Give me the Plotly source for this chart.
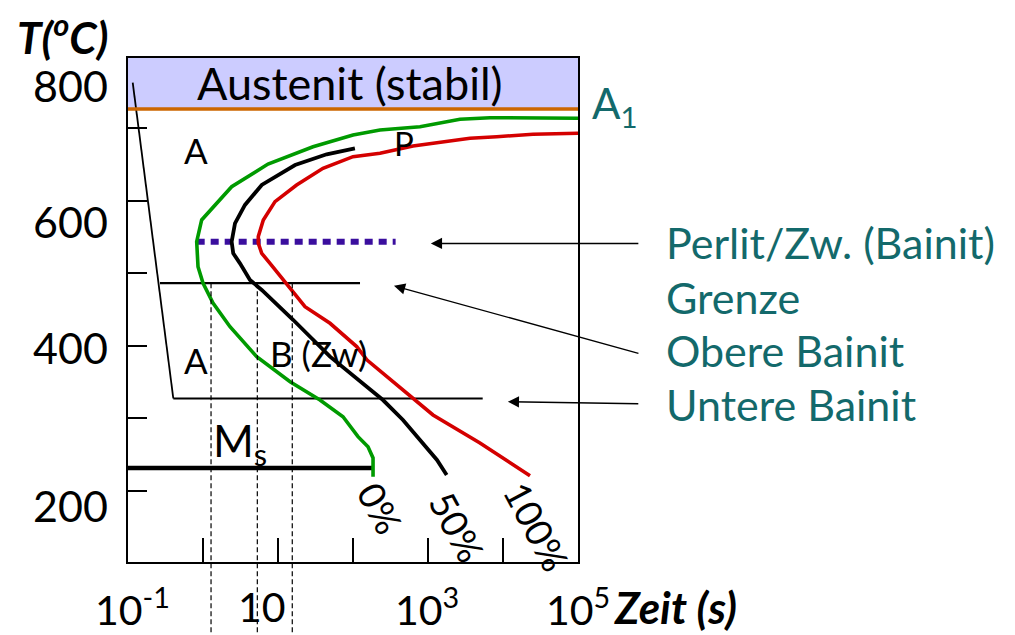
import plotly.graph_objects as go

# --- ZTU / TTT diagram data (time in s, temperature in degC) ---
# 0 % transformation (start) curve
t_start = [1e5, 6710, 2670, 782, 229, 100, 29.3, 7.36, 2.41, 0.96, 0.824, 0.832,
           0.858, 1.0, 1.36, 2.29, 5.2, 14.5, 36.3, 73.6, 116.6, 158.5, 185, 185]
T_start = [713.4, 714.2, 712.0, 701.8, 697.2, 690.4, 674.2, 650.4, 619.1, 573.3, 543.4, 527.8,
           509.0, 486.5, 459.0, 426.3, 385.0, 350.6, 325.3, 302.3, 274.8, 261.0, 245.5, 219.7]

# 50 % transformation curve
t_half = [106, 44.6, 16.9, 6.07, 3.63, 2.67, 2.41, 2.53, 3.11, 4.23, 6.07, 16.0,
          49.4, 251, 464, 858, 1318, 1774]
T_half = [672.0, 663.8, 649.0, 621.5, 594.0, 568.7, 543.4, 527.4, 513.6, 490.6, 476.9, 435.5,
          385.0, 325.3, 297.8, 266.1, 242.7, 222.0]

# 100 % transformation (finish) curve
t_end = [1e5, 25100, 8240, 3630, 631, 229, 100, 39.8, 17.7, 9.12, 6.37, 5.46, 5.46,
         6.07, 7.82, 11.8, 16.0, 22.9, 49.4, 112, 154, 423, 1166, 4930, 22900]
T_end = [692.7, 691.3, 688.0, 685.8, 675.2, 665.2, 660.5, 644.5, 621.5, 598.6, 573.3, 550.4, 541.3,
         527.4, 513.6, 490.6, 472.3, 453.8, 431.0, 398.9, 380.4, 343.3, 304.7, 266.1, 221.1]

# characteristic temperatures
T_A1 = 726.0          # A1 line
T_Ms = 231.7          # martensite start
T_pb = 543.4          # pearlite / bainite boundary
T_upper_bainite = 486.3
T_lower_bainite = 327.4

# isothermal holding lines (start/end time)
t_ms_line = [0.1, 185]
t_pb_line = [0.824, 370]
t_upper_line = [0.267, 124]
t_lower_line = [0.402, 5360]
# quench path (time, temperature)
t_quench = [0.1156, 0.402]
T_quench = [762.4, 327.4]
t_marks = [1.28, 5.3, 15.5]

# axis settings
x_range_log = [-1, 5]
y_range = [102.2, 796.4]
x_ticks = [1, 10, 100, 1000, 10000]
y_ticks = [200, 300, 400, 500, 600, 700]
y_tick_text = ["800", "600", "400", "200"]
y_tick_pos = [0.946, 0.675, 0.425, 0.113]
x_tick_text = ["10<sup>-1</sup>", "10", "10<sup>3</sup>", "10<sup>5</sup>"]
x_tick_pos = [0.009, 0.298, 0.664, 1.0]

FONT = "Lato"
TEAL = "#13696b"

fig = go.Figure()

def line(x, y, color, width, dash="solid"):
    fig.add_trace(go.Scatter(x=x, y=y, mode="lines", showlegend=False, hoverinfo="skip",
                             line=dict(color=color, width=width, dash=dash)))

# quench path and isothermal lines
line(t_quench, T_quench, "black", 1.8)
line(t_upper_line, [T_upper_bainite] * 2, "black", 2.2)
line(t_lower_line, [T_lower_bainite] * 2, "black", 2.2)
line(t_ms_line, [T_Ms] * 2, "black", 4.5)
line(t_pb_line, [T_pb] * 2, "#3a0e9e", 6, dash="8px,6px")

# transformation curves
line(t_start, T_start, "#009a00", 3.6)
line(t_half, T_half, "black", 3.8)
line(t_end, T_end, "#d40000", 3.6)

# stray red dot right of the diagram
fig.add_trace(go.Scatter(x=[9.1e5], y=[690], mode="markers", cliponaxis=False, showlegend=False,
                         hoverinfo="skip", marker=dict(color="#e00000", size=3)))

shapes = []
# stable austenite band
shapes.append(dict(type="rect", xref="paper", yref="y", x0=0, x1=1, y0=T_A1, y1=y_range[1],
                   fillcolor="#ccccff", line=dict(width=0), layer="below"))
shapes.append(dict(type="line", xref="paper", yref="y", x0=0, x1=1, y0=T_A1, y1=T_A1,
                   line=dict(color="#cc6600", width=3.5)))
# dashed verticals from the upper bainite line down below the time axis
frac = (T_upper_bainite - y_range[0]) / (y_range[1] - y_range[0])
for tm in t_marks:
    shapes.append(dict(type="line", xref="x", yref="paper", x0=tm, x1=tm, y0=frac, y1=-0.15,
                       line=dict(color="black", width=1.2, dash="5px,3px")))

ann = []
def text(s, x, y, size=38, color="black", xanchor="center", yanchor="middle", angle=0):
    ann.append(dict(text=s, x=x, y=y, xref="paper", yref="paper", showarrow=False,
                    font=dict(family=FONT, size=size, color=color), xanchor=xanchor,
                    yanchor=yanchor, textangle=angle))

for s, p in zip(y_tick_text, y_tick_pos):
    text(s, -0.04, p, size=43, xanchor="right")
for s, p in zip(x_tick_text, x_tick_pos):
    text(s, p, -0.089, size=41)
text("<b><i>T(<sup>o</sup>C)</i></b>", -0.251, 1.046, size=44, xanchor="left")
text("<b><i>Zeit (s)</i></b>", 1.076, -0.089, size=44, xanchor="left")

text("Austenit (stabil)", 0.493, 0.950, size=45)
text("A<sub>1</sub>", 1.027, 0.905, size=42, color=TEAL, xanchor="left")
text("A", 0.151, 0.817, size=35)
text("A", 0.151, 0.401, size=35)
text("P", 0.613, 0.831, size=33)
text("B (Zw)", 0.311, 0.415, size=35, xanchor="left")
text("M<sub>s</sub>", 0.184, 0.235, size=44, xanchor="left")
text("0%", 0.562, 0.107, size=37, angle=62)
text("50%", 0.733, 0.069, size=37, angle=62)
text("100%", 0.909, 0.071, size=37, angle=62)

labels = ["Perlit/Zw. (Bainit)", "Grenze", "Obere Bainit", "Untere Bainit"]
label_y = [0.633, 0.524, 0.419, 0.312]
for s, p in zip(labels, label_y):
    text(s, 1.191, p, size=43, color=TEAL, xanchor="left")

# arrows pointing from the labels into the diagram
arrows = [(0.673, 0.632, 209, 0), (0.591, 0.548, 246, 68), (0.844, 0.318, 132, 2)]
for hx, hy, ax, ay in arrows:
    ann.append(dict(x=hx, y=hy, xref="paper", yref="paper", text="", showarrow=True,
                    ax=ax, ay=ay, arrowhead=2, arrowsize=1.6, arrowwidth=1.4,
                    arrowcolor="black", standoff=0, startstandoff=0))

fig.update_layout(
    width=1015, height=635, autosize=False,
    margin=dict(l=128, r=437, t=58, b=73),
    paper_bgcolor="white", plot_bgcolor="white",
    shapes=shapes, annotations=ann,
    xaxis=dict(type="log", range=x_range_log, showgrid=False, zeroline=False,
               showline=True, mirror=True, linecolor="black", linewidth=2,
               ticks="inside", tickvals=x_ticks, ticklen=24, tickwidth=1.5, tickcolor="black",
               showticklabels=False),
    yaxis=dict(range=y_range, showgrid=False, zeroline=False,
               showline=True, mirror=True, linecolor="black", linewidth=2,
               ticks="inside", tickvals=y_ticks, ticklen=19, tickwidth=1.5, tickcolor="black",
               showticklabels=False),
)

fig.write_html("out.html")
